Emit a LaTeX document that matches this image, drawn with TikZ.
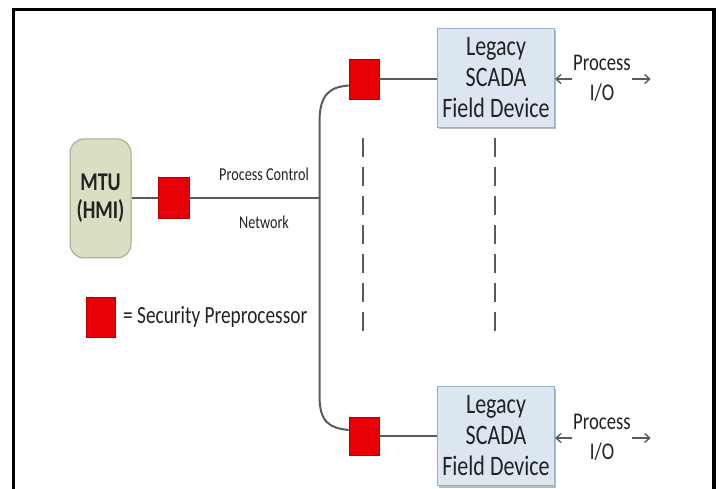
\documentclass[tikz,border=0pt]{standalone}
\usepackage{graphicx}
\usepackage{fontspec}
\setmainfont{Carlito}
\usetikzlibrary{arrows.meta,shadows,calc}
\definecolor{mtufill}{HTML}{D8DFC2}
\definecolor{mtudraw}{HTML}{A2AA8C}
\definecolor{devfill}{HTML}{DCE6F1}
\definecolor{devdraw}{HTML}{95AECB}
\definecolor{spred}{HTML}{E80008}
\definecolor{spdraw}{HTML}{B00000}
\definecolor{wire}{HTML}{5A5A5A}
\definecolor{txt}{HTML}{222222}
\newcommand{\vt}[1]{\scalebox{1}[1.28]{#1}}
\begin{document}
\begin{tikzpicture}[x=1pt,y=-1pt,
  mtubox/.style={draw=mtudraw,fill=mtufill,line width=1pt,rounded corners=14pt,
    minimum width=61pt,minimum height=119pt,inner sep=0pt,align=center,
    font=\fontsize{20}{28}\selectfont\bfseries,text=txt},
  spbox/.style={draw=spdraw,fill=spred,line width=0.6pt,inner sep=0pt},
  devbox/.style={draw=devdraw,fill=devfill,line width=1pt,inner sep=0pt,
    minimum width=117pt,minimum height=99pt,align=center,
    font=\fontsize{22}{31}\selectfont,text=txt,
    drop shadow={shadow xshift=1.5pt,shadow yshift=-2pt,fill=black!45,opacity=0.6}},
  iolabel/.style={fill=white,inner sep=0pt,minimum width=59pt,minimum height=62pt,
    align=center,font=\fontsize{18.7}{30}\selectfont,text=txt},
  wirel/.style={draw=wire,line width=2pt},
  ioarrow/.style={draw=wire,line width=1.4pt,-{Straight Barb[length=5pt,width=9pt]}},
  dashl/.style={draw=wire,line width=2pt,dash pattern=on 19pt off 10pt},
  small/.style={font=\fontsize{14.2}{17}\selectfont,text=txt,inner sep=0pt},
  legend/.style={font=\fontsize{19.3}{23}\selectfont,text=txt,inner sep=0pt}
]
\useasboundingbox (0,0) rectangle (721,489);
% frame (open at the bottom)
\draw[line width=3.5pt] (13.5,489) -- (13.5,9.5) -- (714,9.5) -- (714,489);

% MTU
\node[mtubox] (mtu) at (100.5,198.5) {\vt{MTU}\\\vt{(HMI)}};
\node[spbox,minimum width=31pt,minimum height=41pt] (sp0) at (173.5,197.5) {};
\coordinate (bus) at (319.5,198);
\coordinate (bustop) at (319.5,122);
\coordinate (busbot) at (319.5,396);

% field devices
\node[spbox,minimum width=30pt,minimum height=40pt] (sp1) at (364,79.5) {};
\node[spbox,minimum width=30pt,minimum height=38pt] (sp2) at (364,436) {};
\node[devbox] (dev1) at (496,78) {\vt{Legacy}\\\vt{SCADA}\\\vt{Field Device}};
\node[devbox] (dev2) at (496,436) {\vt{Legacy}\\\vt{SCADA}\\\vt{Field Device}};
\node[iolabel] (io1) at (602,78) {\vt{Process}\\\vt{I/O}};
\node[iolabel] (io2) at (602,437) {\vt{Process}\\\vt{I/O}};

% labels
\node[small] (pc) at (264,174) {\vt{Process Control}};
\node[small] (nw) at (264,222) {\vt{Network}};

% wires
\draw[wirel] (mtu.east |- bus) -- (sp0.west |- bus);
\draw[wirel] (sp0.east |- bus) -- (bus);
\draw[wirel] ($(sp1.west)+(0,6)$) .. controls (330,87) and (319.5,94) .. (bustop)
  -- (busbot) .. controls (319.5,423) and (330,428) .. ($(sp2.west)+(0,-6)$);
\draw[wirel] (sp1.east) -- (dev1.west |- sp1.east);
\draw[wirel] (sp2.east) -- (dev2.west |- sp2.east);

% process I/O arrows
\draw[ioarrow] (io1.west |- dev1.east) ++(0,1) coordinate (a1) -- (dev1.east |- a1);
\draw[ioarrow] (io1.east |- dev1.east) ++(0,1) -- ++(19,0);
\draw[ioarrow] (io2.west |- dev2.east) ++(0,2) coordinate (a2) -- (dev2.east |- a2);
\draw[ioarrow] (io2.east |- dev2.east) ++(0,2) -- ++(19,0);

% dashed lines
\draw[dashl] (363,138) -- (363,336);
\draw[dashl] (495,138) -- (495,336);

% legend
\node[spbox,minimum width=29pt,minimum height=40pt] (leg) at (100.5,317) {};
\node[legend,anchor=west] (legt) at (123,317) {\vt{= Security Preprocessor}};
\end{tikzpicture}
\end{document}
